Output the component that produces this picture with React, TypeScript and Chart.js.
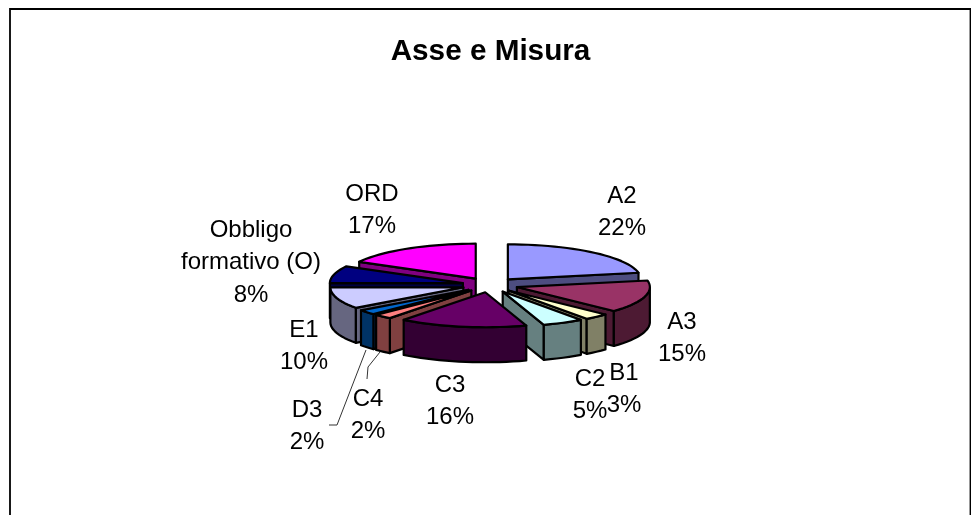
import React, { useEffect, useRef } from "react";
import { Chart, registerables } from "chart.js";

Chart.register(...registerables);

const categories = ["A2", "A3", "B1", "C2", "C3", "C4", "D3", "E1", "Obbligo formativo (O)", "ORD"];
const shares = [22, 15, 3, 5, 15.5, 2.2, 2.3, 10, 8, 17];
const topColors = ["#9999FF", "#993366", "#FFFFCC", "#CCFFFF", "#660066", "#FF8080", "#0066CC", "#CCCCFF", "#000080", "#FF00FF"];
const sideColors = ["#4D4D80", "#4D1A33", "#808066", "#668080", "#330033", "#804040", "#003366", "#666680", "#000040", "#800080"];
const labelLines = [["A2"], ["A3"], ["B1"], ["C2"], ["C3"], ["C4"], ["D3"], ["E1"], ["Obbligo", "formativo (O)"], ["ORD"]];

// manual label anchors (centre x, first-line centre y), as in the reference
const labelAnchors = [
  [622, 196], [682, 322], [624, 373], [590, 379], [450, 385],
  [368, 399], [307, 410], [304, 330], [251, 230], [372, 194],
];
const leaders = [
  [[366, 350], [337, 425], [329, 425]],
  [[380, 352], [368, 367], [367, 379]],
];

const FONT = '"Liberation Sans", Arial, sans-serif';
const view = { cx: 490, cy: 285, k: 0.263, depth: 35, persp: 0 };

const pie3d = {
  id: "pie3d",
  beforeDatasetsDraw(chart: any) {
    const ctx = chart.ctx;
    const arcs = chart.getDatasetMeta(0).data;
    const R = arcs[0].outerRadius;
    const project = (dx: number, dy: number, z: number) => {
      const f = 1 + (view.persp * dy) / R;
      return { x: view.cx + dx * f, y: view.cy + dy * view.k * f + z * f };
    };
    const slices = arcs.map((arc: any, i: number) => {
      const off = arc.options.offset;
      const a0 = arc.startAngle, a1 = arc.endAngle;
      const mid = (a0 + a1) / 2;
      const ox = Math.cos(mid) * off, oy = Math.sin(mid) * off;
      const steps = Math.max(4, Math.ceil(((a1 - a0) * 180) / Math.PI / 3));
      const rim: number[][] = [];
      for (let s = 0; s <= steps; s++) {
        const a = a0 + ((a1 - a0) * s) / steps;
        rim.push([ox + Math.cos(a) * R, oy + Math.sin(a) * R]);
      }
      return { i, ox, oy, rim, order: oy + Math.sin(mid) * R * 0.5 };
    });
    slices.sort((a: any, b: any) => a.order - b.order);

    ctx.save();
    ctx.lineJoin = "round";
    ctx.strokeStyle = "#000";
    ctx.lineWidth = 2.2;
    const fillPoly = (pts: any[], fill: string) => {
      ctx.beginPath();
      pts.forEach((p, n) => (n ? ctx.lineTo(p.x, p.y) : ctx.moveTo(p.x, p.y)));
      ctx.closePath();
      ctx.fillStyle = fill;
      ctx.fill();
      ctx.stroke();
    };
    const wall = (run: number[][], fill: string) => {
      const top = run.map((p) => project(p[0], p[1], 0));
      const bottom = run.map((p) => project(p[0], p[1], view.depth)).reverse();
      fillPoly([...top, ...bottom], fill);
    };
    for (const s of slices) {
      const apex = [s.ox, s.oy];
      const side = sideColors[s.i];
      const faces = [[apex, s.rim[0]], [s.rim[s.rim.length - 1], apex]];
      for (const [p, q] of faces) {
        if (project(q[0], q[1], 0).x < project(p[0], p[1], 0).x) wall([p, q], side);
      }
      const front: number[][] = [];
      for (let n = 0; n < s.rim.length - 1; n++) {
        const p = s.rim[n], q = s.rim[n + 1];
        if (project(q[0], q[1], 0).x < project(p[0], p[1], 0).x) {
          if (!front.length) front.push(p);
          front.push(q);
        }
      }
      if (front.length > 1) wall(front, side);
      fillPoly([apex, ...s.rim].map((p) => project(p[0], p[1], 0)), topColors[s.i]);
    }
    ctx.restore();
    return false;
  },
  afterDraw(chart: any) {
    const ctx = chart.ctx;
    ctx.save();
    ctx.strokeStyle = "#000";
    ctx.lineWidth = 1.8;
    ctx.beginPath();
    ctx.moveTo(10, 530);
    ctx.lineTo(10, 9);
    ctx.lineTo(970.5, 9);
    ctx.lineTo(970.5, 530);
    ctx.stroke();

    ctx.strokeStyle = "#333";
    ctx.lineWidth = 1;
    for (const path of leaders) {
      ctx.beginPath();
      path.forEach((p, n) => (n ? ctx.lineTo(p[0], p[1]) : ctx.moveTo(p[0], p[1])));
      ctx.stroke();
    }
    ctx.fillStyle = "#000";
    ctx.font = `24px ${FONT}`;
    ctx.textAlign = "center";
    ctx.textBaseline = "middle";
    categories.forEach((_, i) => {
      const lines = [...labelLines[i], `${Math.round(shares[i])}%`];
      lines.forEach((t, n) => ctx.fillText(t, labelAnchors[i][0], labelAnchors[i][1] + n * 32.5));
    });
    ctx.restore();
  },
};

export default function App() {
  const ref = useRef<HTMLCanvasElement>(null);
  useEffect(() => {
    const chart = new Chart(ref.current!, {
      type: "pie",
      data: {
        labels: categories,
        datasets: [{ data: shares, backgroundColor: topColors, borderColor: "#000", borderWidth: 2, offset: 28 }],
      },
      options: {
        responsive: false,
        animation: false,
        events: [],
        radius: 133,
        layout: { padding: { left: 10, top: 34 } },
        plugins: {
          legend: { display: false },
          tooltip: { enabled: false },
          title: {
            display: true,
            text: "Asse e Misura",
            color: "#000",
            font: { family: FONT, size: 29.7, weight: "bold" },
            padding: 0,
          },
        },
      },
      plugins: [pie3d],
    } as any);
    return () => chart.destroy();
  }, []);
  return (
    <div style={{ position: "fixed", left: 0, top: 0, width: 971, height: 515, background: "#fff" }}>
      <canvas ref={ref} width={971} height={515} style={{ display: "block" }} />
    </div>
  );
}
